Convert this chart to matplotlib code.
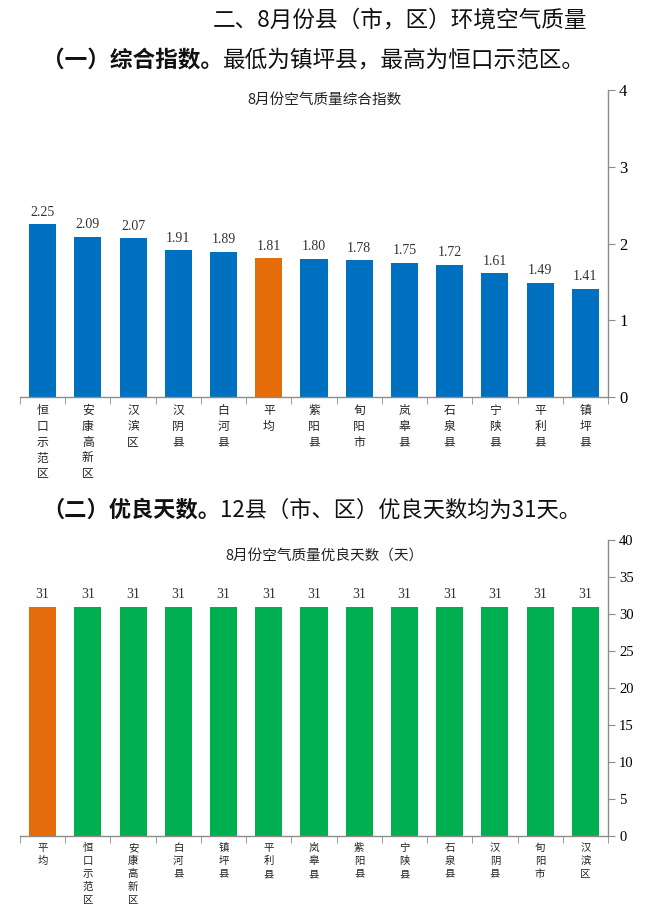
import matplotlib
matplotlib.use("Agg")
import matplotlib.pyplot as plt

plt.rcParams["font.family"] = ["Noto Sans CJK SC", "DejaVu Sans"]

# 综合指数
index_names = ["恒口示范区", "安康高新区", "汉滨区", "汉阴县", "白河县", "平均", "紫阳县",
               "旬阳市", "岚皋县", "石泉县", "宁陕县", "平利县", "镇坪县"]
index_values = [2.25, 2.09, 2.07, 1.91, 1.89, 1.81, 1.80, 1.78, 1.75, 1.72, 1.61, 1.49, 1.41]
index_ticks = [0, 1, 2, 3, 4]

# 优良天数
days_names = ["平均", "恒口示范区", "安康高新区", "白河县", "镇坪县", "平利县", "岚皋县",
              "紫阳县", "宁陕县", "石泉县", "汉阴县", "旬阳市", "汉滨区"]
days_values = [31, 31, 31, 31, 31, 31, 31, 31, 31, 31, 31, 31, 31]
days_ticks = [0, 5, 10, 15, 20, 25, 30, 35, 40]

BLUE = "#0070C0"
GREEN = "#00B050"
ORANGE = "#E46C0A"
GRAY = "#8C8C8C"
SERIF = ["Liberation Serif", "DejaVu Serif"]

W, H = 655, 917
fig = plt.figure(figsize=(W / 100, H / 100), dpi=100)


def bar_panel(rect, names, values, ticks, color, fmt, tick_size, title, title_y,
              label_size, label_spacing, label_pad):
    ax = fig.add_axes(rect)
    x = list(range(len(names)))
    colors = [ORANGE if n == "平均" else color for n in names]
    ax.bar(x, values, width=0.6, color=colors, zorder=2)
    for xi, v in zip(x, values):
        ax.annotate(fmt.format(v), (xi, v), xytext=(0, 4), textcoords="offset points",
                    ha="center", va="bottom", fontsize=10, family=SERIF, color="#333333")

    ax.set_xlim(-0.5, len(names) - 0.5)
    ax.set_ylim(ticks[0], ticks[-1])
    ax.set_yticks(ticks)
    ax.set_yticklabels([str(t) for t in ticks], family=SERIF, fontsize=tick_size)
    ax.yaxis.tick_right()
    ax.tick_params(axis="y", direction="out", length=5, color=GRAY, pad=3)

    ax.set_xticks(x)
    ax.set_xticklabels(["\n".join(n) for n in names], fontsize=label_size,
                       linespacing=label_spacing, va="top", color="#222222")
    ax.set_xticks([i - 0.5 for i in range(len(names) + 1)], minor=True)
    ax.tick_params(axis="x", which="major", length=0, pad=label_pad)
    ax.tick_params(axis="x", which="minor", length=5, color=GRAY, direction="out")

    for side in ["top", "left"]:
        ax.spines[side].set_visible(False)
    for side in ["bottom", "right"]:
        ax.spines[side].set_color(GRAY)
        ax.spines[side].set_linewidth(1.0)

    fig.text(0.495, 1 - title_y / H, title, ha="center", va="center", fontsize=10.5,
             color="#222222")
    return ax


bar_panel([20 / W, 1 - 397 / H, 588 / W, 307 / H], index_names, index_values, index_ticks,
          BLUE, "{:.2f}", 12, "8月份空气质量综合指数", 100, 8.5, 1.28, 5)
bar_panel([20 / W, 1 - 836 / H, 588 / W, 296 / H], days_names, days_values, days_ticks,
          GREEN, "{:d}", 10.5, "8月份空气质量优良天数（天）", 557, 7.5, 1.37, 5)

fig.text(213 / W, 1 - 20 / H, "二、8月份县（市，区）环境空气质量", ha="left", va="center",
         fontsize=16.3, color="#111111")

fig.canvas.draw()
renderer = fig.canvas.get_renderer()


def heading(x_px, y_px, bold, normal, size):
    t = fig.text(x_px / W, 1 - y_px / H, bold, ha="left", va="center", fontsize=size,
                 fontweight="bold", color="#111111")
    bb = t.get_window_extent(renderer)
    fig.text(bb.x1 / W, 1 - y_px / H, normal, ha="left", va="center", fontsize=size,
             color="#111111")


heading(42, 60, "（一）综合指数。", "最低为镇坪县，最高为恒口示范区。", 16.3)
heading(42, 510, "（二）优良天数。", "12县（市、区）优良天数均为31天。", 16)

fig.savefig("out.png", dpi=100)
